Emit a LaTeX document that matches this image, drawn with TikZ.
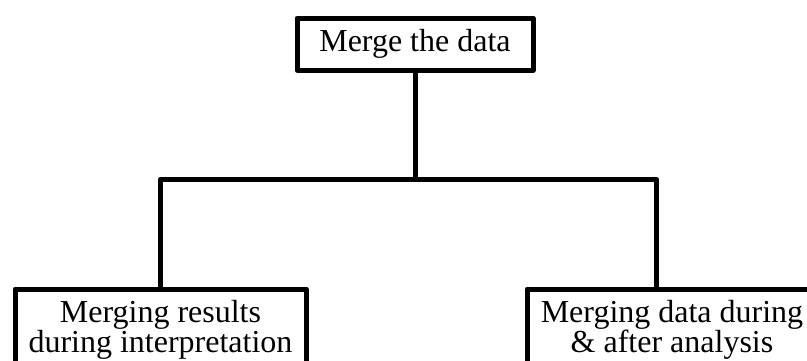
\documentclass[tikz,border=0pt]{standalone}
\usepackage{fontspec}
\setmainfont{Liberation Serif}
\begin{document}
\begin{tikzpicture}[x=1pt,y=-1pt,
  box/.style={draw=black,line width=5pt,line join=round,rectangle,inner sep=0pt,align=center,
    font=\fontsize{32}{30}\selectfont},
  conn/.style={draw=black,line width=5pt,line join=round}]
\useasboundingbox (0,0) rectangle (807,360);
\clip (0,0) rectangle (807,360);
\node[box,minimum width=236pt,minimum height=52pt] (top) at (415,44) {Merge the data};
\node[box,minimum width=291pt,minimum height=82pt] (left) at (160.5,330) {Merging results\\during interpretation};
\node[box,minimum width=290pt,minimum height=82pt] (right) at (672,330) {Merging data during\\\& after analysis};
\coordinate (j) at (415,179);
\coordinate (jl) at (160.5,179);
\coordinate (jr) at (656,179);
\draw[conn] (top.south) -- (j);
\draw[conn] (left.north) -- (jl) -- (jr) -- (jr |- right.north);
\end{tikzpicture}
\end{document}
